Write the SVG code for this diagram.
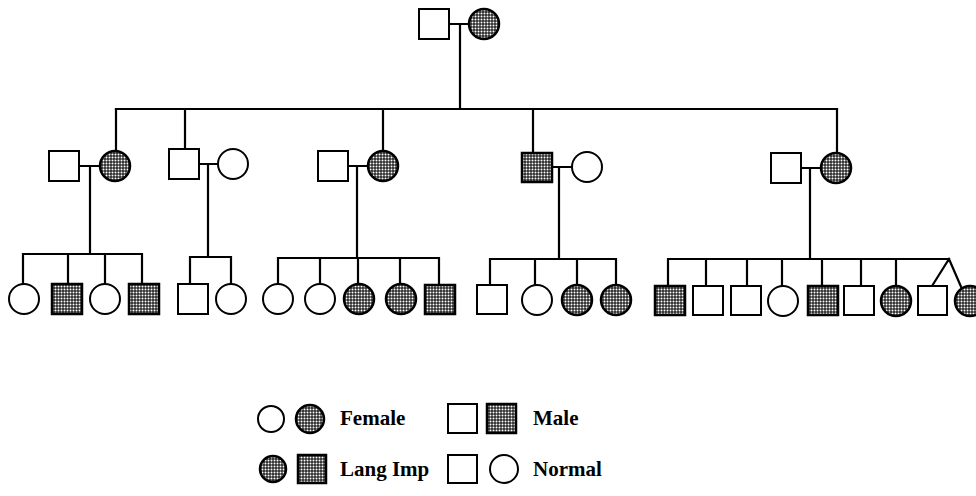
<svg xmlns="http://www.w3.org/2000/svg" width="976" height="496" viewBox="0 0 976 496">
<style>
.n{fill:#fff;stroke:#000;stroke-width:2}
.a{fill:url(#dots);stroke:#000;stroke-width:2.5}
.c{fill:none;stroke:#000;stroke-width:2.2;stroke-linecap:square}
.t{font-family:"Liberation Serif","Times New Roman",serif;font-size:21px;font-weight:bold;fill:#000}
</style>
<defs>
<pattern id="dots" width="3" height="3" patternUnits="userSpaceOnUse">
<rect width="3" height="3" fill="#2a2a2a"/>
<circle cx="1.5" cy="1.5" r="1" fill="#fff"/>
</pattern>
</defs>
<rect width="976" height="496" fill="#fff"/>

<g id="connectors" class="c">
<path d="M449 24H469M460 24V109M116 109H837"/>
<path d="M116 109V151M185 109V149M383 109V151M533 109V153M837 109V153"/>
<path d="M79 166H100M90 166V254M23 254H142M23 254V284M68 254V284M105 254V284M142 254V284"/>
<path d="M199 164H218M208 164V257M190 257H231M190 257V284M231 257V284"/>
<path d="M348 166H368M357 166V258M278 258H439M278 258V284M320 258V284M358 258V284M400 258V284M439 258V285"/>
<path d="M552 167H572M559 167V259M490 259H616M490 259V285M535 259V285M577 259V285M616 259V285"/>
<path d="M801 168H821M810 168V259M668 259H949M668 259V286M706 259V286M747 259V286M782 259V286M822 259V286M861 259V286M896 259V286M949 259L932 286M949 259L962 289"/>
</g>

<g id="g1-father"><rect class="n" x="419" y="9" width="30" height="30"/></g>
<g id="g1-mother"><circle class="a" cx="484" cy="24" r="15"/></g>

<g id="a-husband"><rect class="n" x="49" y="151" width="30" height="30"/></g>
<g id="a-wife"><circle class="a" cx="115" cy="166" r="15"/></g>
<g id="b-husband"><rect class="n" x="169" y="149" width="30" height="30"/></g>
<g id="b-wife"><circle class="n" cx="233" cy="164" r="15"/></g>
<g id="c-husband"><rect class="n" x="318" y="151" width="30" height="30"/></g>
<g id="c-wife"><circle class="a" cx="383" cy="166" r="15"/></g>
<g id="d-husband"><rect class="a" x="522" y="153" width="30" height="29"/></g>
<g id="d-wife"><circle class="n" cx="587" cy="167" r="15"/></g>
<g id="e-husband"><rect class="n" x="771" y="153" width="30" height="30"/></g>
<g id="e-wife"><circle class="a" cx="836" cy="168" r="15"/></g>

<g id="a1"><circle class="n" cx="24" cy="299" r="15"/></g>
<g id="a2"><rect class="a" x="52" y="284" width="30" height="30"/></g>
<g id="a3"><circle class="n" cx="105" cy="299" r="15"/></g>
<g id="a4"><rect class="a" x="129" y="284" width="30" height="30"/></g>

<g id="b1"><rect class="n" x="178" y="284" width="30" height="30"/></g>
<g id="b2"><circle class="n" cx="231" cy="299" r="15"/></g>

<g id="c1"><circle class="n" cx="278" cy="299" r="15"/></g>
<g id="c2"><circle class="n" cx="320" cy="299" r="15"/></g>
<g id="c3"><circle class="a" cx="359" cy="299" r="15"/></g>
<g id="c4"><circle class="a" cx="401" cy="299" r="15"/></g>
<g id="c5"><rect class="a" x="425" y="285" width="30" height="29"/></g>

<g id="d1"><rect class="n" x="477" y="285" width="30" height="29"/></g>
<g id="d2"><circle class="n" cx="537" cy="300" r="15"/></g>
<g id="d3"><circle class="a" cx="577" cy="300" r="15"/></g>
<g id="d4"><circle class="a" cx="616" cy="300" r="15"/></g>

<g id="e1"><rect class="a" x="655" y="286" width="30" height="29"/></g>
<g id="e2"><rect class="n" x="693" y="286" width="30" height="29"/></g>
<g id="e3"><rect class="n" x="731" y="286" width="30" height="29"/></g>
<g id="e4"><circle class="n" cx="783" cy="301" r="15"/></g>
<g id="e5"><rect class="a" x="808" y="286" width="30" height="29"/></g>
<g id="e6"><rect class="n" x="844" y="286" width="30" height="29"/></g>
<g id="e7"><circle class="a" cx="896" cy="301" r="15"/></g>
<g id="e8"><rect class="n" x="918" y="286" width="29" height="29"/></g>
<g id="e9"><circle class="a" cx="970" cy="301" r="15"/></g>

<g id="legend">
<circle class="n" cx="271" cy="419" r="13"/>
<circle class="a" cx="310" cy="419" r="14"/>
<text class="t" x="340" y="425">Female</text>
<rect class="n" x="448" y="404" width="29" height="29"/>
<rect class="a" x="487" y="404" width="29" height="29"/>
<text class="t" x="533" y="425">Male</text>
<circle class="a" cx="273" cy="469" r="13"/>
<rect class="a" x="298" y="455" width="28" height="28"/>
<text class="t" x="340" y="476">Lang Imp</text>
<rect class="n" x="448" y="455" width="29" height="28"/>
<circle class="n" cx="504" cy="469" r="14"/>
<text class="t" x="533" y="476">Normal</text>
</g>
</svg>
